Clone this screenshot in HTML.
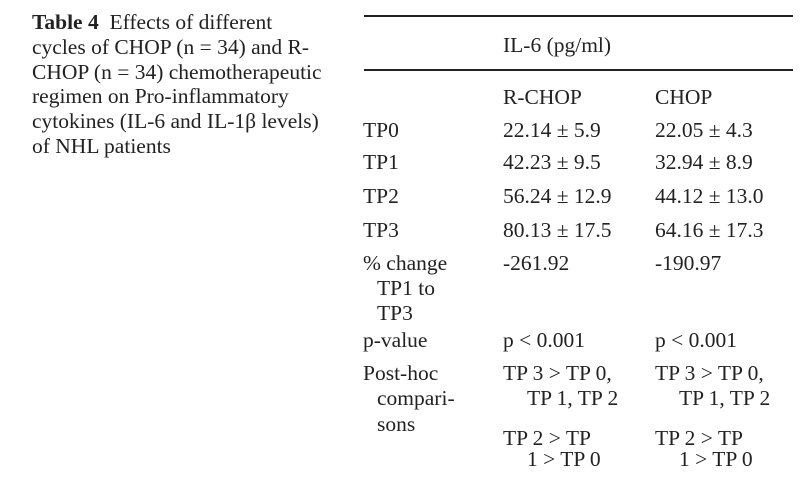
<!DOCTYPE html>
<html><head><meta charset="utf-8"><style>
body{margin:0;width:800px;height:480px;background:#fff;position:relative;overflow:hidden;font-family:"Liberation Serif",serif;font-size:21.5px;color:#222;}
div.t{position:absolute;line-height:24px;white-space:nowrap;}
.ln{position:absolute;left:364px;width:429px;height:2px;background:#222;}
</style></head><body>
<div class="t" style="left:32px;top:10px;line-height:24.8px">
<b>Table 4</b>&nbsp; Effects of different<br>cycles of CHOP (n = 34) and R-<br>CHOP (n = 34) chemotherapeutic<br>regimen on Pro-inflammatory<br>cytokines (IL-6 and IL-1β levels)<br>of NHL patients</div>
<div class="ln" style="top:15px"></div>
<div class="ln" style="top:69px"></div>
<div class="t" style="left:503px;top:33px">IL-6 (pg/ml)</div>
<div class="t" style="left:503px;top:85px">R-CHOP</div>
<div class="t" style="left:655px;top:85px">CHOP</div>
<div class="t" style="left:363px;top:118px">TP0</div>
<div class="t" style="left:503px;top:118px">22.14 ± 5.9</div>
<div class="t" style="left:655px;top:118px">22.05 ± 4.3</div>
<div class="t" style="left:363px;top:150px">TP1</div>
<div class="t" style="left:503px;top:150px">42.23 ± 9.5</div>
<div class="t" style="left:655px;top:150px">32.94 ± 8.9</div>
<div class="t" style="left:363px;top:184px">TP2</div>
<div class="t" style="left:503px;top:184px">56.24 ± 12.9</div>
<div class="t" style="left:655px;top:184px">44.12 ± 13.0</div>
<div class="t" style="left:363px;top:218px">TP3</div>
<div class="t" style="left:503px;top:218px">80.13 ± 17.5</div>
<div class="t" style="left:655px;top:218px">64.16 ± 17.3</div>
<div class="t" style="left:363px;top:251px">% change</div>
<div class="t" style="left:377px;top:276px">TP1 to</div>
<div class="t" style="left:377px;top:301px">TP3</div>
<div class="t" style="left:503px;top:251px">-261.92</div>
<div class="t" style="left:655px;top:251px">-190.97</div>
<div class="t" style="left:363px;top:328px">p-value</div>
<div class="t" style="left:503px;top:328px">p &lt; 0.001</div>
<div class="t" style="left:655px;top:328px">p &lt; 0.001</div>
<div class="t" style="left:363px;top:361px">Post-hoc</div>
<div class="t" style="left:377px;top:386px">compari-</div>
<div class="t" style="left:377px;top:412px">sons</div>
<div class="t" style="left:503px;top:361px">TP 3 &gt; TP 0,</div>
<div class="t" style="left:527px;top:386px">TP 1, TP 2</div>
<div class="t" style="left:655px;top:361px">TP 3 &gt; TP 0,</div>
<div class="t" style="left:679px;top:386px">TP 1, TP 2</div>
<div class="t" style="left:503px;top:426px">TP 2 &gt; TP</div>
<div class="t" style="left:527px;top:447px">1 &gt; TP 0</div>
<div class="t" style="left:655px;top:426px">TP 2 &gt; TP</div>
<div class="t" style="left:679px;top:447px">1 &gt; TP 0</div>
</body></html>
